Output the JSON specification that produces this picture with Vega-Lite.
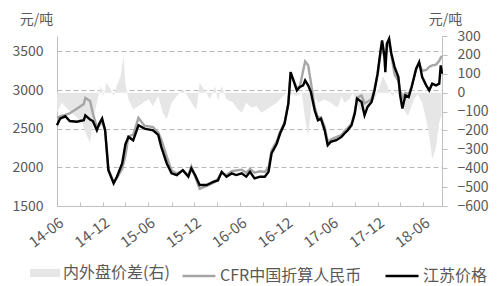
{
 "$schema": "https://vega.github.io/schema/vega-lite/v6.json",
 "width": 385, "height": 170,
 "autosize": {"type": "none"},
 "padding": {"left": 57, "top": 36, "right": 58, "bottom": 80},
 "background": "white",
 "config": {
  "font": "Noto Sans CJK SC",
  "view": {"stroke": null},
  "axis": {"labelFont": "Noto Sans CJK SC", "labelColor": "#595959", "labelFontSize": 14, "titleFont": "Noto Sans CJK SC", "titleFontWeight": "normal", "titleColor": "#595959", "titleFontSize": 14, "domainColor": "#bfbfbf", "tickColor": "#bfbfbf"},
  "legend": {"labelFont": "Noto Sans CJK SC", "labelColor": "#595959", "labelFontSize": 16, "labelLimit": 300}
 },
 "datasets": {
  "jc": [
   {"d": "2014-06-01", "js": 2545, "cfr": 2640},
   {"d": "2014-06-13", "js": 2630, "cfr": 2660},
   {"d": "2014-07-04", "js": 2661, "cfr": 2680},
   {"d": "2014-07-22", "js": 2600, "cfr": 2700},
   {"d": "2014-08-19", "js": 2590, "cfr": 2760},
   {"d": "2014-09-16", "js": 2610, "cfr": 2820},
   {"d": "2014-09-22", "js": 2674, "cfr": 2900},
   {"d": "2014-10-11", "js": 2619, "cfr": 2860},
   {"d": "2014-10-22", "js": 2600, "cfr": 2700},
   {"d": "2014-11-07", "js": 2481, "cfr": 2520},
   {"d": "2014-11-16", "js": 2560, "cfr": 2540},
   {"d": "2014-11-28", "js": 2632, "cfr": 2600},
   {"d": "2014-12-10", "js": 2480, "cfr": 2470},
   {"d": "2014-12-23", "js": 1964, "cfr": 1980},
   {"d": "2015-01-13", "js": 1793, "cfr": 1810},
   {"d": "2015-01-26", "js": 1879, "cfr": 1860},
   {"d": "2015-02-16", "js": 2050, "cfr": 1980},
   {"d": "2015-03-01", "js": 2300, "cfr": 2150},
   {"d": "2015-03-13", "js": 2394, "cfr": 2400},
   {"d": "2015-04-01", "js": 2350, "cfr": 2420},
   {"d": "2015-04-22", "js": 2545, "cfr": 2640},
   {"d": "2015-05-16", "js": 2502, "cfr": 2540},
   {"d": "2015-06-19", "js": 2480, "cfr": 2520},
   {"d": "2015-07-10", "js": 2420, "cfr": 2450},
   {"d": "2015-07-22", "js": 2265, "cfr": 2360},
   {"d": "2015-08-13", "js": 2050, "cfr": 2140},
   {"d": "2015-09-01", "js": 1922, "cfr": 1960},
   {"d": "2015-09-22", "js": 1900, "cfr": 1920},
   {"d": "2015-10-16", "js": 1964, "cfr": 1960},
   {"d": "2015-11-07", "js": 1879, "cfr": 1900},
   {"d": "2015-11-19", "js": 1986, "cfr": 2010},
   {"d": "2015-12-04", "js": 1900, "cfr": 1880},
   {"d": "2015-12-22", "js": 1771, "cfr": 1720},
   {"d": "2016-01-19", "js": 1771, "cfr": 1760},
   {"d": "2016-02-16", "js": 1814, "cfr": 1800},
   {"d": "2016-03-04", "js": 1830, "cfr": 1850},
   {"d": "2016-03-19", "js": 1943, "cfr": 1930},
   {"d": "2016-04-07", "js": 1879, "cfr": 1900},
   {"d": "2016-04-28", "js": 1922, "cfr": 1950},
   {"d": "2016-05-16", "js": 1900, "cfr": 1960},
   {"d": "2016-06-07", "js": 1922, "cfr": 1970},
   {"d": "2016-06-25", "js": 1880, "cfr": 1930},
   {"d": "2016-07-10", "js": 1943, "cfr": 1980},
   {"d": "2016-07-28", "js": 1857, "cfr": 1930},
   {"d": "2016-08-19", "js": 1879, "cfr": 1950},
   {"d": "2016-09-07", "js": 1879, "cfr": 1940},
   {"d": "2016-09-22", "js": 1943, "cfr": 2000},
   {"d": "2016-10-04", "js": 2180, "cfr": 2220},
   {"d": "2016-10-25", "js": 2309, "cfr": 2340},
   {"d": "2016-11-07", "js": 2438, "cfr": 2460},
   {"d": "2016-11-25", "js": 2567, "cfr": 2580},
   {"d": "2016-12-10", "js": 2825, "cfr": 2830},
   {"d": "2016-12-19", "js": 3233, "cfr": 3200},
   {"d": "2016-12-28", "js": 3148, "cfr": 3150},
   {"d": "2017-01-13", "js": 2997, "cfr": 3020},
   {"d": "2017-01-25", "js": 3040, "cfr": 3050},
   {"d": "2017-02-07", "js": 3060, "cfr": 3250},
   {"d": "2017-02-15", "js": 3126, "cfr": 3370},
   {"d": "2017-02-27", "js": 3061, "cfr": 3320},
   {"d": "2017-03-10", "js": 2975, "cfr": 3100},
   {"d": "2017-03-25", "js": 2739, "cfr": 2780},
   {"d": "2017-04-07", "js": 2610, "cfr": 2640},
   {"d": "2017-04-19", "js": 2630, "cfr": 2650},
   {"d": "2017-05-04", "js": 2480, "cfr": 2520},
   {"d": "2017-05-16", "js": 2287, "cfr": 2330},
   {"d": "2017-05-28", "js": 2330, "cfr": 2360},
   {"d": "2017-06-19", "js": 2352, "cfr": 2390},
   {"d": "2017-07-10", "js": 2394, "cfr": 2420},
   {"d": "2017-07-22", "js": 2438, "cfr": 2470},
   {"d": "2017-08-04", "js": 2480, "cfr": 2510},
   {"d": "2017-08-19", "js": 2545, "cfr": 2560},
   {"d": "2017-09-01", "js": 2696, "cfr": 2720},
   {"d": "2017-09-10", "js": 2890, "cfr": 2900},
   {"d": "2017-09-28", "js": 2847, "cfr": 2930},
   {"d": "2017-10-10", "js": 2674, "cfr": 2830},
   {"d": "2017-10-22", "js": 2782, "cfr": 2850},
   {"d": "2017-11-07", "js": 2847, "cfr": 2880},
   {"d": "2017-11-19", "js": 2997, "cfr": 3020},
   {"d": "2017-12-01", "js": 3212, "cfr": 3200},
   {"d": "2017-12-13", "js": 3513, "cfr": 3480},
   {"d": "2017-12-19", "js": 3642, "cfr": 3560},
   {"d": "2017-12-28", "js": 3448, "cfr": 3420},
   {"d": "2018-01-01", "js": 3233, "cfr": 3380},
   {"d": "2018-01-07", "js": 3600, "cfr": 3550},
   {"d": "2018-01-16", "js": 3664, "cfr": 3620},
   {"d": "2018-01-25", "js": 3470, "cfr": 3450},
   {"d": "2018-02-07", "js": 3298, "cfr": 3200},
   {"d": "2018-02-22", "js": 3169, "cfr": 3120},
   {"d": "2018-03-01", "js": 2932, "cfr": 3000},
   {"d": "2018-03-10", "js": 2761, "cfr": 2900},
   {"d": "2018-03-22", "js": 2932, "cfr": 2960},
   {"d": "2018-04-04", "js": 2910, "cfr": 2950},
   {"d": "2018-04-16", "js": 3040, "cfr": 3050},
   {"d": "2018-05-04", "js": 3276, "cfr": 3280},
   {"d": "2018-05-16", "js": 3362, "cfr": 3340},
   {"d": "2018-05-28", "js": 3169, "cfr": 3250},
   {"d": "2018-06-13", "js": 3061, "cfr": 3260},
   {"d": "2018-06-25", "js": 2997, "cfr": 3300},
   {"d": "2018-07-07", "js": 3083, "cfr": 3320},
   {"d": "2018-07-22", "js": 3061, "cfr": 3330},
   {"d": "2018-08-04", "js": 3083, "cfr": 3380},
   {"d": "2018-08-10", "js": 3320, "cfr": 3420},
   {"d": "2018-08-15", "js": 3212, "cfr": 3440}
  ],
  "sp": [
   {"d": "2014-06-01", "v": -106}, {"d": "2014-06-20", "v": -53}, {"d": "2014-07-16", "v": -90},
   {"d": "2014-08-13", "v": -123}, {"d": "2014-09-10", "v": -159}, {"d": "2014-09-28", "v": -230},
   {"d": "2014-10-11", "v": -265}, {"d": "2014-10-25", "v": -140}, {"d": "2014-11-07", "v": -53},
   {"d": "2014-11-22", "v": 35}, {"d": "2014-12-04", "v": -18}, {"d": "2014-12-16", "v": 53},
   {"d": "2015-01-01", "v": 18}, {"d": "2015-01-13", "v": -18}, {"d": "2015-01-25", "v": 35},
   {"d": "2015-02-10", "v": 88}, {"d": "2015-02-22", "v": 194}, {"d": "2015-02-28", "v": 53},
   {"d": "2015-03-13", "v": -35}, {"d": "2015-04-01", "v": -88}, {"d": "2015-04-22", "v": -71},
   {"d": "2015-05-10", "v": -53}, {"d": "2015-06-01", "v": -35}, {"d": "2015-06-19", "v": -71},
   {"d": "2015-07-10", "v": -18}, {"d": "2015-07-28", "v": -106}, {"d": "2015-08-13", "v": -141},
   {"d": "2015-09-01", "v": -53}, {"d": "2015-09-28", "v": -9}, {"d": "2015-10-16", "v": 18},
   {"d": "2015-11-07", "v": -26}, {"d": "2015-11-28", "v": -71}, {"d": "2015-12-10", "v": -88},
   {"d": "2015-12-22", "v": 53}, {"d": "2016-01-13", "v": 9}, {"d": "2016-02-01", "v": -35},
   {"d": "2016-02-22", "v": 35}, {"d": "2016-03-04", "v": -44}, {"d": "2016-03-19", "v": 35},
   {"d": "2016-04-07", "v": -35}, {"d": "2016-05-04", "v": -53}, {"d": "2016-05-22", "v": -88},
   {"d": "2016-06-07", "v": -106}, {"d": "2016-06-25", "v": -53}, {"d": "2016-07-16", "v": -79},
   {"d": "2016-08-04", "v": -71}, {"d": "2016-08-25", "v": -106}, {"d": "2016-09-16", "v": -88},
   {"d": "2016-10-04", "v": -71}, {"d": "2016-10-25", "v": -53}, {"d": "2016-11-13", "v": -26},
   {"d": "2016-12-04", "v": 0}, {"d": "2016-12-22", "v": -9}, {"d": "2017-01-13", "v": -18},
   {"d": "2017-02-01", "v": 0}, {"d": "2017-02-15", "v": -140}, {"d": "2017-02-27", "v": -230},
   {"d": "2017-03-10", "v": -100}, {"d": "2017-03-16", "v": 0}, {"d": "2017-04-07", "v": -53},
   {"d": "2017-05-04", "v": -35}, {"d": "2017-05-28", "v": -53}, {"d": "2017-06-25", "v": -79},
   {"d": "2017-07-10", "v": -18}, {"d": "2017-07-22", "v": -53}, {"d": "2017-08-10", "v": -35},
   {"d": "2017-08-25", "v": 0}, {"d": "2017-09-07", "v": -53}, {"d": "2017-09-19", "v": -88},
   {"d": "2017-10-10", "v": -106}, {"d": "2017-10-28", "v": -53}, {"d": "2017-11-19", "v": -35},
   {"d": "2017-12-10", "v": 35}, {"d": "2017-12-22", "v": 88}, {"d": "2018-01-04", "v": 53},
   {"d": "2018-01-19", "v": 0}, {"d": "2018-02-01", "v": -18}, {"d": "2018-02-13", "v": 18},
   {"d": "2018-03-04", "v": -35}, {"d": "2018-03-16", "v": -88}, {"d": "2018-04-01", "v": -123},
   {"d": "2018-04-25", "v": -35}, {"d": "2018-05-10", "v": -9}, {"d": "2018-05-28", "v": -53},
   {"d": "2018-06-13", "v": -141}, {"d": "2018-06-25", "v": -229}, {"d": "2018-07-07", "v": -351},
   {"d": "2018-07-22", "v": -290}, {"d": "2018-08-04", "v": -158}, {"d": "2018-08-13", "v": -120}
  ]
 },
 "encoding": {
  "x": {"field": "d", "type": "temporal",
   "scale": {"domain": [{"year": 2014, "month": 6, "date": 1}, {"year": 2018, "month": 8, "date": 15}]},
   "axis": {"title": null, "grid": false, "tickSize": -4, "labelPadding": 13, "labelAngle": -37, "labelAlign": "right", "labelBaseline": "top", "labelFontSize": 15, "labelOverlap": false,
    "values": [
     {"year": 2014, "month": 6, "date": 1}, {"year": 2014, "month": 9, "date": 1}, {"year": 2014, "month": 12, "date": 1},
     {"year": 2015, "month": 3, "date": 1}, {"year": 2015, "month": 6, "date": 1}, {"year": 2015, "month": 9, "date": 1}, {"year": 2015, "month": 12, "date": 1},
     {"year": 2016, "month": 3, "date": 1}, {"year": 2016, "month": 6, "date": 1}, {"year": 2016, "month": 9, "date": 1}, {"year": 2016, "month": 12, "date": 1},
     {"year": 2017, "month": 3, "date": 1}, {"year": 2017, "month": 6, "date": 1}, {"year": 2017, "month": 9, "date": 1}, {"year": 2017, "month": 12, "date": 1},
     {"year": 2018, "month": 3, "date": 1}, {"year": 2018, "month": 6, "date": 1}],
    "labelExpr": "(month(datum.value) == 5 || month(datum.value) == 11) ? timeFormat(datum.value, '%y-%m') : ''"}}
 },
 "layer": [
  {
   "data": {"name": "sp"},
   "mark": {"type": "area", "opacity": 1},
   "encoding": {
    "y": {"field": "v", "type": "quantitative",
     "scale": {"domain": [-600, 300], "nice": false},
     "axis": {"orient": "right", "values": [-600, -500, -400, -300, -200, -100, 0, 100, 200, 300], "format": "d", "grid": false, "tickSize": 5, "labelPadding": 10, "labelAlign": "left", "labelBaseline": "middle", "labelFontSize": 14, "labelOverlap": false,
      "title": "元/吨", "titleAngle": 0, "titleX": 3, "titleY": -17, "titleAlign": "center", "titleBaseline": "middle", "titleFontSize": 14}},
    "fill": {"datum": "内外盘价差(右)", "scale": {"domain": ["内外盘价差(右)"], "range": ["#e6e6e6"]},
     "legend": {"orient": "none", "legendX": -27, "legendY": 222, "title": null, "symbolType": "M-1,-0.27L1,-0.27L1,0.27L-1,0.27Z", "symbolSize": 900, "symbolStrokeWidth": 0, "labelOffset": 3, "labelFontSize": 16}}
   }
  },
  {
   "data": {"name": "jc"},
   "encoding": {
    "y": {"type": "quantitative",
     "scale": {"domain": [1500, 3700], "nice": false, "zero": false},
     "axis": {"values": [1500, 2000, 2500, 3000, 3500], "format": "d", "grid": true, "gridDash": [5, 3], "gridColor": "#b8b8b8", "ticks": false, "labelPadding": 14, "labelFontSize": 14, "labelBaseline": "middle",
      "title": "元/吨", "titleAngle": 0, "titleX": -21, "titleY": -17, "titleAlign": "center", "titleBaseline": "middle", "titleFontSize": 14}},
    "stroke": {"scale": {"domain": ["CFR中国折算人民币", "江苏价格"], "range": ["#a6a6a6", "#000000"]},
     "legend": {"orient": "none", "legendX": 124, "legendY": 222, "title": null, "direction": "horizontal", "symbolType": "stroke", "symbolSize": 1089, "symbolStrokeWidth": 2.5, "labelOffset": 3, "columnPadding": 18, "labelFontSize": 16}}
   },
   "layer": [
    {"mark": {"type": "line", "strokeWidth": 2.4}, "encoding": {"y": {"field": "cfr", "type": "quantitative"}, "stroke": {"datum": "CFR中国折算人民币"}}},
    {"mark": {"type": "line", "strokeWidth": 2.4}, "encoding": {"y": {"field": "js", "type": "quantitative"}, "stroke": {"datum": "江苏价格"}}}
   ]
  }
 ],
 "resolve": {"scale": {"y": "independent"}, "axis": {"y": "independent"}}
}
